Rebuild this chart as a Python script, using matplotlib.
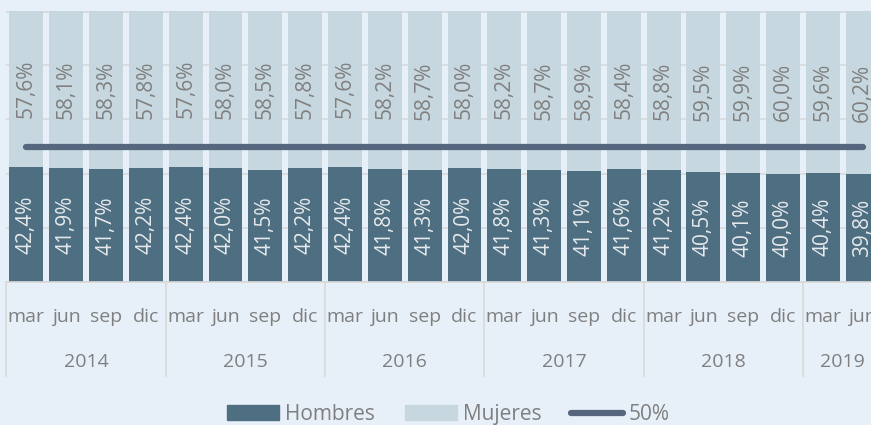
import matplotlib
matplotlib.use("Agg")
import matplotlib.pyplot as plt
import matplotlib.transforms as mtransforms
from matplotlib.patches import Patch
from matplotlib.lines import Line2D

# data
years = ["2014", "2015", "2016", "2017", "2018", "2019"]
months = ["mar", "jun", "sep", "dic"]
hombres = [42.4, 41.9, 41.7, 42.2, 42.4, 42.0, 41.5, 42.2, 42.4, 41.8, 41.3,
           42.0, 41.8, 41.3, 41.1, 41.6, 41.2, 40.5, 40.1, 40.0, 40.4, 39.8]
mujeres = [57.6, 58.1, 58.3, 57.8, 57.6, 58.0, 58.5, 57.8, 57.6, 58.2, 58.7,
           58.0, 58.2, 58.7, 58.9, 58.4, 58.8, 59.5, 59.9, 60.0, 59.6, 60.2]
ref_line = 50.0

bg = "#e7f0f9"
c_h = "#4e6f82"
c_m = "#c7d7df"
c_line = "#56667f"
c_text = "#7f7f7f"
c_grid = "#d9d9d9"

plt.rcParams['font.family'] = ['Open Sans', 'DejaVu Sans']

fig = plt.figure(figsize=(8.71, 4.25), dpi=100)
fig.patch.set_facecolor(bg)

n = len(hombres)
# axes runs past the right edge of the figure, like the cropped original
ax = fig.add_axes([6.4 / 871, 143 / 425, 22 * 39.83 / 871, 271 / 425])
ax.set_facecolor(bg)
x = list(range(n))

ax.bar(x, hombres, width=0.85, color=c_h, zorder=2)
ax.bar(x, mujeres, width=0.85, bottom=hombres, color=c_m, zorder=2)
ax.plot([0, n - 1], [ref_line, ref_line], color=c_line, lw=4.5,
        solid_capstyle='round', zorder=3)

for i in range(n):
    ax.text(i, hombres[i] / 2, f"{hombres[i]:.1f}".replace('.', ',') + "%",
            rotation=90, ha='center', va='center', fontsize=15,
            color="#e6e9ec", zorder=4)
    ax.text(i, hombres[i] + mujeres[i] / 2,
            f"{mujeres[i]:.1f}".replace('.', ',') + "%",
            rotation=90, ha='center', va='center', fontsize=15,
            color=c_text, zorder=4)

ax.set_xlim(-0.5, n - 0.5)
ax.set_ylim(0, 100)
ax.set_yticks([0, 20, 40, 60, 80, 100])
ax.yaxis.grid(True, color=c_grid, lw=1.2, zorder=0)
ax.tick_params(left=False, labelleft=False, bottom=False, labelbottom=False)
for s in ax.spines.values():
    s.set_visible(False)
ax.axhline(100, color=c_grid, lw=2, zorder=1)

# two-level category axis
trans = mtransforms.blended_transform_factory(ax.transData, ax.transAxes)
for i in range(n):
    ax.text(i, -0.129, months[i % 4], transform=trans, ha='center',
            va='center', fontsize=14, color=c_text)
for k, yr in enumerate(years):
    start = k * 4
    end = min(start + 4, n)
    ax.text((start + end - 1) / 2, -0.295, yr, transform=trans, ha='center',
            va='center', fontsize=14, color=c_text)
for k in range(len(years) + 1):
    ax.plot([k * 4 - 0.5] * 2, [0, -0.347], transform=trans, color=c_grid,
            lw=1.2, clip_on=False)
ax.plot([-0.5, n + 2], [0, 0], transform=trans, color=c_grid, lw=1.2,
        clip_on=False)

handles = [Patch(color=c_h), Patch(color=c_m),
           Line2D([], [], color=c_line, lw=4.5, solid_capstyle='round')]
leg = fig.legend(handles, ["Hombres", "Mujeres", "50%"], loc='center',
                 bbox_to_anchor=(0.515, 0.025), ncol=3, frameon=False,
                 fontsize=15, handlelength=2.5, handletextpad=0.3,
                 columnspacing=1.4)
for t in leg.get_texts():
    t.set_color(c_text)

fig.savefig("out.png", dpi=100, facecolor=bg)
